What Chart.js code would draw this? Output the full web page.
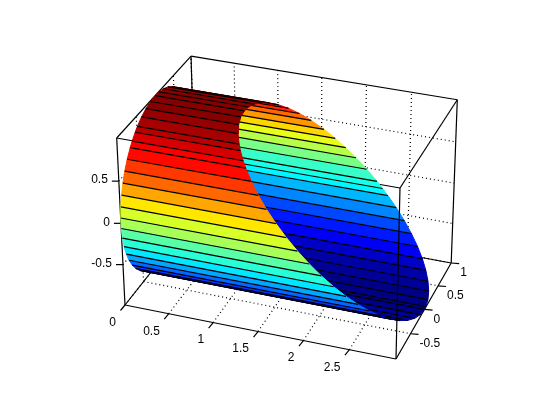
<!DOCTYPE html>
<html><head><meta charset="utf-8">
<style>html,body{margin:0;padding:0;background:#fff}canvas{display:block}</style>
<script src="https://cdn.jsdelivr.net/npm/chart.js@4/dist/chart.umd.min.js"></script>
</head><body><canvas id="c" width="560" height="420"></canvas>
<script>
// Data
const xTicks = [0, 0.5, 1, 1.5, 2, 2.5];
const yTicks = [-0.5, 0, 0.5, 1];
const zTicks = [-0.5, 0, 0.5];
const xLimits = [0, 3];
const yLimits = [-1, 1];
const zLimits = [-1, 1];
// Mesh lines of the tube, going round from the top through the near side, then back over the far side
const meshY = [0,-0.1253,-0.2487,-0.3681,-0.4818,-0.5446,-0.6293,-0.6845,-0.7705,-0.8443,-0.9048,-0.9511,-0.9823,-0.998,-0.998,-0.9823,-0.9511,-0.9048,-0.8443,-0.7705,-0.6845,-0.5878,-0.4818,-0.3681,-0.2487,-0.1253,0,
  0.0523,0.1736,0.2957,0.4131,0.524,0.6266,0.7193,0.8007,0.8695,0.9239,0.9613,0.9781,0.9903,0.9998,0.9945,0.9763,0.9455,0.8988,0.829,0.749,0.6561,0.5592,0.454,0.342,0.225,0.1045];
const meshZ = [1,0.9921,0.9686,0.9298,0.8763,0.8387,0.7771,0.729,0.6374,0.5358,0.4258,0.309,0.1874,0.0628,-0.0628,-0.1874,-0.309,-0.4258,-0.5358,-0.6374,-0.729,-0.809,-0.8763,-0.9298,-0.9686,-0.9921,-1,
  -0.9986,-0.9848,-0.9553,-0.9107,-0.8517,-0.7793,-0.6947,-0.599,-0.4939,-0.3827,-0.2756,-0.2079,-0.1392,-0.0175,0.1045,0.2164,0.3256,0.4384,0.5592,0.6626,0.7547,0.829,0.891,0.9397,0.9744,0.9945];
// Where each mesh line ends along x, at the slanted cut
const meshEndX = [1,1.0079,1.0314,1.0702,1.1237,1.1613,1.2229,1.271,1.3626,1.4642,1.5742,1.691,1.8126,1.9372,2.0628,2.1874,2.309,2.4258,2.5358,2.6374,2.729,2.809,2.8763,2.9298,2.9686,2.9921,3,
  2.9986,2.9848,2.9553,2.9107,2.8517,2.7793,2.6947,2.599,2.4939,2.3827,2.2756,2.2079,2.1392,2.0175,1.8955,1.7836,1.6744,1.5616,1.4408,1.3374,1.2453,1.171,1.109,1.0603,1.0256,1.0055];

// Camera: perspective map of the axes cube onto the chart plane
const cam = { o:[125,305,1], dx:[256.78,41.11,-0.0359], dy:[84.3,-74.43,0.0689], dz:[-13.31,-172.92,-0.0429] };
function project(x, y, z) {
  const X = (x - xLimits[0]) / (xLimits[1] - xLimits[0]);
  const Y = (y - yLimits[0]) / (yLimits[1] - yLimits[0]);
  const Z = (z - zLimits[0]) / (zLimits[1] - zLimits[0]);
  const p = [0,1,2].map(i => cam.o[i] + X*cam.dx[i] + Y*cam.dy[i] + Z*cam.dz[i]);
  return { x: p[0]/p[2], y: p[1]/p[2] };
}
function jet(z) {
  const idx = Math.min(63, Math.floor((z + 1) / 2 * 64));
  const t = (idx + 0.5) / 64;
  const c = v => Math.round(255 * Math.max(0, Math.min(1, v)));
  return `rgb(${c(Math.min(4*t-1.5,-4*t+4.5))},${c(Math.min(4*t-0.5,-4*t+3.5))},${c(Math.min(4*t+0.5,-4*t+2.5))})`;
}
const datasets = [];
const inkWidth = 1.2;
function pushLine(points, color, dash) {
  datasets.push({ data: points, showLine: true, fill: false, pointRadius: 0, borderColor: color,
    borderWidth: inkWidth, borderDash: dash || [], tension: 0, clip: false });
}
function pushFacet(points, color) {
  datasets.push({ data: points, showLine: true, fill: 'shape', backgroundColor: color, pointRadius: 0,
    borderColor: color, borderWidth: 1, tension: 0, clip: false });
}
const seg = (a, b) => [project(a[0],a[1],a[2]), project(b[0],b[1],b[2])];
const [x0,x1] = xLimits, [y0,y1] = yLimits, [z0,z1] = zLimits;

// Dotted grid on the three rear planes
const dots = [1,3];
xTicks.forEach(v => { pushLine(seg([v,y0,z0],[v,y1,z0]),'#000',dots); pushLine(seg([v,y1,z0],[v,y1,z1]),'#000',dots); });
yTicks.forEach(v => { pushLine(seg([x0,v,z0],[x1,v,z0]),'#000',dots); pushLine(seg([x0,v,z0],[x0,v,z1]),'#000',dots); });
zTicks.forEach(v => { pushLine(seg([x0,y0,v],[x0,y1,v]),'#000',dots); pushLine(seg([x0,y1,v],[x1,y1,v]),'#000',dots); });

// Box edges behind the surface
[[[x0,y0,z0],[x1,y0,z0]],[[x0,y0,z0],[x0,y1,z0]],[[x1,y0,z0],[x1,y1,z0]],[[x0,y1,z0],[x1,y1,z0]],
 [[x0,y0,z1],[x1,y0,z1]],[[x0,y0,z1],[x0,y1,z1]],[[x1,y0,z1],[x1,y1,z1]],[[x0,y1,z1],[x1,y1,z1]],
 [[x0,y0,z0],[x0,y0,z1]],[[x0,y1,z0],[x0,y1,z1]],[[x1,y1,z0],[x1,y1,z1]]].forEach(e => pushLine(seg(e[0],e[1]),'#000'));

// Tick marks (screen offsets)
const tickOut = (pt, dx, dy) => [pt, {x: pt.x+dx, y: pt.y+dy}];
xTicks.forEach(v => pushLine(tickOut(project(v,y0,z0),-4.5,5.5),'#000'));
yTicks.forEach(v => pushLine(tickOut(project(x1,v,z0),8,0.7),'#000'));
zTicks.forEach(v => pushLine(tickOut(project(x0,y0,v),-7,0),'#000'));

// Tube facets: those seen from inside first, then those seen from outside
const n = meshY.length;
function facet(i) {
  const j = (i + 1) % n;
  return [project(x0,meshY[i],meshZ[i]), project(meshEndX[i],meshY[i],meshZ[i]),
          project(meshEndX[j],meshY[j],meshZ[j]), project(x0,meshY[j],meshZ[j])];
}
function area(q) { let s = 0; q.forEach((p,k) => { const r = q[(k+1)%q.length]; s += p.x*r.y - r.x*p.y; }); return s; }
const nearSign = Math.sign(area(facet(12)));
const isFront = i => Math.sign(area(facet(i))) === nearSign;
function drawSide(front) {
  for (let i = 0; i < n; i++) if (isFront(i) === front) {
    const q = facet(i);
    pushFacet(q.concat([q[0]]), jet(meshZ[i]));
  }
  for (let i = 0; i < n; i++) {
    const touches = isFront(i) || isFront((i + n - 1) % n);
    if (touches === front) pushLine(seg([x0,meshY[i],meshZ[i]],[meshEndX[i],meshY[i],meshZ[i]]),'#000');
  }
}
drawSide(false);
drawSide(true);
// Front vertical box edge stays over the surface
pushLine(seg([x1,y0,z0],[x1,y0,z1]),'#000');

datasets.forEach((d, k) => { d.order = datasets.length - k; });

const axisText = {
  id: 'axisText',
  afterDatasetsDraw(chart) {
    const {ctx, scales} = chart;
    ctx.save();
    ctx.fillStyle = '#000';
    ctx.font = '12px "Liberation Sans"';
    ctx.textBaseline = 'middle';
    const put = (text, pt, dx, dy, align) => {
      ctx.textAlign = align;
      ctx.fillText(text, scales.x.getPixelForValue(pt.x) + dx, scales.y.getPixelForValue(pt.y) + dy);
    };
    xTicks.forEach(v => put(String(v), project(v,y0,z0), -9, 17.5, 'right'));
    yTicks.forEach(v => put(String(v), project(x1,v,z0), 9, 10, 'left'));
    zTicks.forEach(v => put(String(v), project(x0,y0,v), -11, -1, 'right'));
    ctx.restore();
  }
};

new Chart(document.getElementById('c'), {
  type: 'scatter',
  data: { datasets },
  plugins: [axisText],
  options: {
    responsive: false, animation: false, events: [],
    layout: { padding: 0 },
    plugins: { legend: { display: false }, tooltip: { enabled: false } },
    scales: {
      x: { type: 'linear', display: false, min: 0, max: 560 },
      y: { type: 'linear', display: false, min: 0, max: 420, reverse: true }
    }
  }
});
</script></body></html>
